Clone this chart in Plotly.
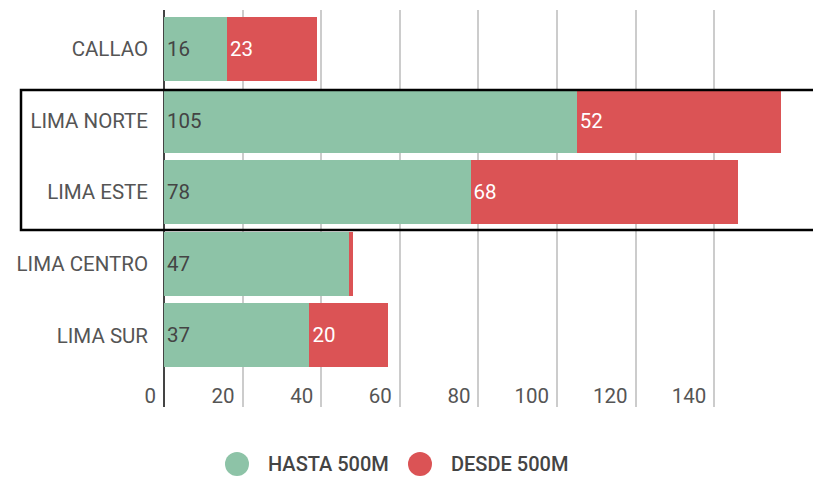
import plotly.graph_objects as go

# Zonas de Lima y conteos por rango de monto
zonas = ["CALLAO", "LIMA NORTE", "LIMA ESTE", "LIMA CENTRO", "LIMA SUR"]
hasta_500m = [16, 105, 78, 47, 37]
desde_500m = [23, 52, 68, 1, 20]
series = [("HASTA 500M", hasta_500m, "#8dc3a7", "#444444"),
          ("DESDE 500M", desde_500m, "#db5355", "#ffffff")]
x_ticks = [0, 20, 40, 60, 80, 100, 120, 140]

W, H = 813, 477
M_L, M_R, M_T, M_B = 164, 28, 10, 70
PW, PH = W - M_L - M_R, H - M_T - M_B
FONT = "Roboto, Arial, sans-serif"
FS = 20.5


def px_x(px):
    return (px - M_L) / PW


def px_y(py):
    return (H - M_B - py) / PH


fig = go.Figure()
for name, vals, color, txtcolor in series:
    fig.add_trace(go.Bar(
        y=zonas, x=vals, name=name, orientation="h",
        marker=dict(color=color, line=dict(width=0)),
        text=[str(v) if v >= 5 else "" for v in vals],
        textposition="inside", insidetextanchor="start",
        textangle=0, constraintext="none",
        textfont=dict(family=FONT, size=FS, color=txtcolor),
        showlegend=False, hoverinfo="x+y+name",
    ))

shapes = [
    # marco resaltando Lima Norte y Lima Este
    dict(type="rect", xref="paper", yref="paper",
         x0=px_x(21), x1=px_x(830), y0=px_y(230), y1=px_y(90),
         line=dict(color="#000000", width=2.5), fillcolor="rgba(0,0,0,0)",
         layer="above"),
]
annotations = []
legend_px = [(237, 266), (420, 449)]
for (name, _, color, _), (cx, tx) in zip(series, legend_px):
    shapes.append(dict(type="circle", xref="paper", yref="paper",
                       xsizemode="pixel", ysizemode="pixel",
                       xanchor=px_x(cx), yanchor=px_y(464),
                       x0=-12, x1=12, y0=-12, y1=12,
                       fillcolor=color, line=dict(width=0)))
    annotations.append(dict(xref="paper", yref="paper", x=px_x(tx), y=px_y(464),
                            xanchor="left", yanchor="middle", showarrow=False,
                            text=name,
                            font=dict(family=FONT, size=20, color="#444444",
                                      weight=500)))

fig.update_layout(
    width=W, height=H,
    margin=dict(l=M_L, r=M_R, t=M_T, b=M_B),
    paper_bgcolor="white", plot_bgcolor="white",
    barmode="stack", bargap=0.105,
    font=dict(family=FONT, size=FS, color="#555555"),
    shapes=shapes, annotations=annotations,
    xaxis=dict(
        range=[0, 158], tickmode="array", tickvals=x_ticks,
        ticktext=[str(t) for t in x_ticks],
        showgrid=True, gridcolor="#cccccc", gridwidth=2,
        zeroline=True, zerolinecolor="#444444", zerolinewidth=2,
        showline=False, ticks="",
        ticklabelposition="inside left", ticklabeloverflow="allow",
        ticklabelshift=-8, ticklabelstandoff=-6,
        tickfont=dict(family=FONT, size=FS, color="#555555"),
    ),
    yaxis=dict(
        type="category", categoryorder="array", categoryarray=zonas,
        range=[5.0, -0.545], showgrid=False, zeroline=False,
        ticks="", ticklabelstandoff=15,
        tickfont=dict(family=FONT, size=FS, color="#555555"),
    ),
)

fig.write_html("out.html")
